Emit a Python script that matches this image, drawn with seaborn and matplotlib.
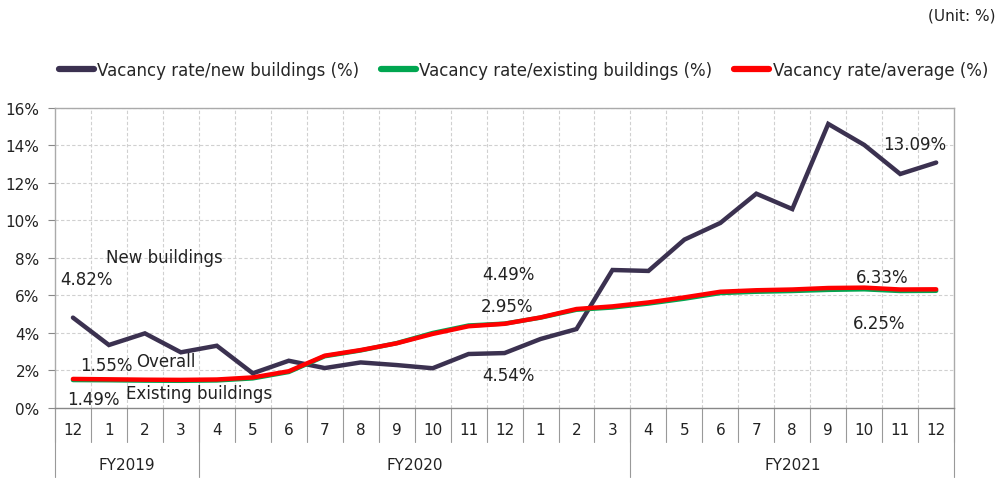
import pandas as pd
import seaborn as sns
import matplotlib.pyplot as plt
from matplotlib.lines import Line2D
import matplotlib.transforms as mtransforms

months = ['12', '1', '2', '3', '4', '5', '6', '7', '8', '9', '10', '11', '12',
          '1', '2', '3', '4', '5', '6', '7', '8', '9', '10', '11', '12']
fiscal_years = ['FY2019', 'FY2020', 'FY2021']
fy_sizes = [4, 12, 9]

new_buildings = [4.82, 3.36, 3.98, 2.97, 3.32, 1.85, 2.52, 2.13, 2.43, 2.29, 2.12, 2.88, 2.93,
                 3.68, 4.21, 7.36, 7.31, 8.98, 9.87, 11.43, 10.61, 15.15, 14.03, 12.48, 13.09]
existing_buildings = [1.49, 1.48, 1.46, 1.45, 1.47, 1.58, 1.92, 2.76, 3.07, 3.46, 4.00, 4.40, 4.50,
                      4.82, 5.24, 5.36, 5.57, 5.83, 6.13, 6.20, 6.24, 6.30, 6.33, 6.24, 6.25]
average = [1.55, 1.53, 1.51, 1.50, 1.52, 1.63, 1.96, 2.79, 3.09, 3.45, 3.95, 4.36, 4.49,
           4.83, 5.28, 5.42, 5.63, 5.90, 6.20, 6.28, 6.32, 6.40, 6.42, 6.32, 6.33]

labels = ['Vacancy rate/new buildings (%)', 'Vacancy rate/existing buildings (%)',
          'Vacancy rate/average (%)']
colors = ['#3b3150', '#00a650', '#ff0000']

df = pd.DataFrame({'idx': range(len(months)), 'new': new_buildings,
                   'existing': existing_buildings, 'avg': average})

sns.set_theme(style='white')
plt.rcParams['font.family'] = ['DejaVu Sans']

fig = plt.figure(figsize=(10.03, 4.89), dpi=100)
ax = fig.add_axes([0.0548, 0.1636, 0.8965, 0.6135])

for col, c in zip(['new', 'existing', 'avg'], colors):
    sns.lineplot(data=df, x='idx', y=col, ax=ax, color=c, linewidth=3.2,
                 solid_capstyle='round', solid_joinstyle='miter')

n = len(months)
ax.set_xlim(-0.5, n - 0.5)
ax.set_ylim(0, 16)
ax.set_yticks(range(0, 17, 2))
ax.set_yticklabels([f'{v}%' for v in range(0, 17, 2)], fontsize=11, color='#222222')
ax.set_xticks(range(n))
ax.set_xticklabels(months, fontsize=11, color='#222222')
ax.tick_params(axis='x', length=0, pad=10)
ax.tick_params(axis='y', length=5, width=0.8, color='#888888', left=True, pad=6)
ax.set_xlabel('')
ax.set_ylabel('')

# grid
for y in range(2, 17, 2):
    ax.axhline(y, color='#d0d0d0', lw=0.8, ls=(0, (3, 2)), zorder=0)
for i in range(n - 1):
    ax.axvline(i + 0.5, color='#d0d0d0', lw=0.8, ls=(0, (3, 2)), zorder=0)

for s in ['top', 'right', 'left']:
    ax.spines[s].set_color('#aaaaaa')
    ax.spines[s].set_linewidth(1)
ax.spines['bottom'].set_color('#888888')
ax.spines['bottom'].set_linewidth(1)

# category table under the axis
trans = mtransforms.blended_transform_factory(ax.transData, ax.transAxes)
for i in range(n + 1):
    ax.plot([i - 0.5, i - 0.5], [0, -0.113], transform=trans, color='#999999',
            lw=0.8, clip_on=False)
edge = 0
for fy, size in zip(fiscal_years, fy_sizes):
    ax.plot([edge - 0.5, edge - 0.5], [0, -0.23], transform=trans, color='#999999',
            lw=0.8, clip_on=False)
    ax.text(edge - 0.5 + size / 2, -0.19, fy, transform=trans, ha='center',
            va='center', fontsize=11, color='#222222')
    edge += size
ax.plot([n - 0.5, n - 0.5], [0, -0.23], transform=trans, color='#999999',
        lw=0.8, clip_on=False)

# annotations
notes = [
    (0.92, 8.05, 'New buildings'), (-0.36, 6.88, '4.82%'),
    (0.19, 2.29, '1.55%'), (1.75, 2.5, 'Overall'),
    (-0.17, 0.48, '1.49%'), (1.48, 0.78, 'Existing buildings'),
    (11.39, 7.15, '4.49%'), (11.33, 5.44, '2.95%'), (11.39, 1.76, '4.54%'),
    (22.53, 14.08, '13.09%'), (21.78, 6.99, '6.33%'), (21.69, 4.53, '6.25%'),
]
for x, y, t in notes:
    ax.text(x, y, t, ha='left', va='center', fontsize=12, color='#222222')

handles = [Line2D([0], [0], color=c, lw=4.5, solid_capstyle='round') for c in colors]
fig.legend(handles, labels, loc='center right', bbox_to_anchor=(1.0, 0.855),
           ncol=3, frameon=False, fontsize=12, handlelength=2.1, handletextpad=0.2,
           columnspacing=1.3)
fig.text(0.993, 0.967, '(Unit: %)', ha='right', va='center', fontsize=11, color='#222222')

fig.savefig('out.png', dpi=100)
